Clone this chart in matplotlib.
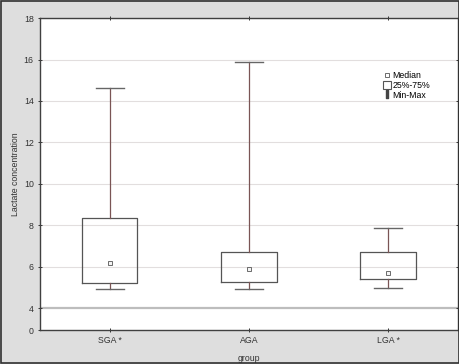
import matplotlib.pyplot as plt
from matplotlib.patches import Rectangle
from matplotlib.lines import Line2D

plt.rcParams['font.family'] = ['Liberation Sans', 'DejaVu Sans']

groups = ['SGA *', 'AGA', 'LGA *']
medians = [6.2, 5.9, 5.7]
q1 = [5.2, 5.27, 5.43]
q3 = [8.35, 6.72, 6.72]
mins = [4.93, 4.91, 5.0]
maxs = [14.62, 15.9, 7.86]

ytick_vals = [2.95, 4, 6, 8, 10, 12, 14, 16, 18]
ytick_labels = ['0', '4', '6', '8', '10', '12', '14', '16', '18']

fig = plt.figure(figsize=(4.6, 3.64), dpi=100, facecolor='#dedede')
fig.patches.append(Rectangle((0.002, 0.003), 0.996, 0.994, transform=fig.transFigure,
                             fill=False, edgecolor='#303030', linewidth=1.2))
ax = fig.add_axes([0.087, 0.0934, 0.908, 0.857])
ax.set_facecolor('white')

stats = []
for g, m, lo, hi, a, b in zip(groups, medians, q1, q3, mins, maxs):
    stats.append(dict(label=g, med=m, q1=lo, q3=hi, whislo=a, whishi=b, mean=m, fliers=[]))

ax.bxp(stats, positions=[1, 2, 3], widths=0.4, capwidths=0.2, showmeans=True,
       boxprops=dict(color='#555555', linewidth=0.9),
       whiskerprops=dict(color='#7a5555', linewidth=0.9),
       capprops=dict(color='#666666', linewidth=1.0),
       medianprops=dict(linewidth=0),
       meanprops=dict(marker='s', markersize=3.5, markerfacecolor='#f4f4f4',
                      markeredgecolor='#555555', markeredgewidth=0.6))

ax.set_xlim(0.5, 3.5)
ax.set_ylim(2.95, 18)
ax.set_yticks(ytick_vals)
ax.set_yticklabels(ytick_labels)
for v in ytick_vals[2:]:
    ax.axhline(v, color='#e2dede', linewidth=0.8, zorder=0)
ax.axhline(4, color='#bdbdbd', linewidth=1.6, zorder=0)

ax.tick_params(axis='both', labelsize=6.3, colors='#333333', length=3, width=0.7,
               direction='inout', top=True, right=True, pad=3)
for s in ax.spines.values():
    s.set_color('#404040')
    s.set_linewidth(1.0)

ax.set_ylabel('Lactate concentration', fontsize=6.3, color='#333333', labelpad=3)
ax.set_xlabel('group', fontsize=6.3, color='#333333', labelpad=6)

handles = [
    Line2D([], [], marker='s', linestyle='none', markersize=3, markerfacecolor='white',
           markeredgecolor='#555555', markeredgewidth=0.6),
    Line2D([], [], marker='s', linestyle='none', markersize=6, markerfacecolor='white',
           markeredgecolor='#555555', markeredgewidth=0.8),
    Line2D([], [], marker='$\\mathrm{I}$', linestyle='none', markersize=6, color='#444444'),
]
ax.legend(handles, ['Median', '25%-75%', 'Min-Max'], loc='upper left',
          bbox_to_anchor=(0.815, 0.845), frameon=False, fontsize=6.3,
          handlelength=0.6, handletextpad=0.3, labelspacing=0.1, borderpad=0)

fig.savefig('out.png', dpi=100, facecolor=fig.get_facecolor())
